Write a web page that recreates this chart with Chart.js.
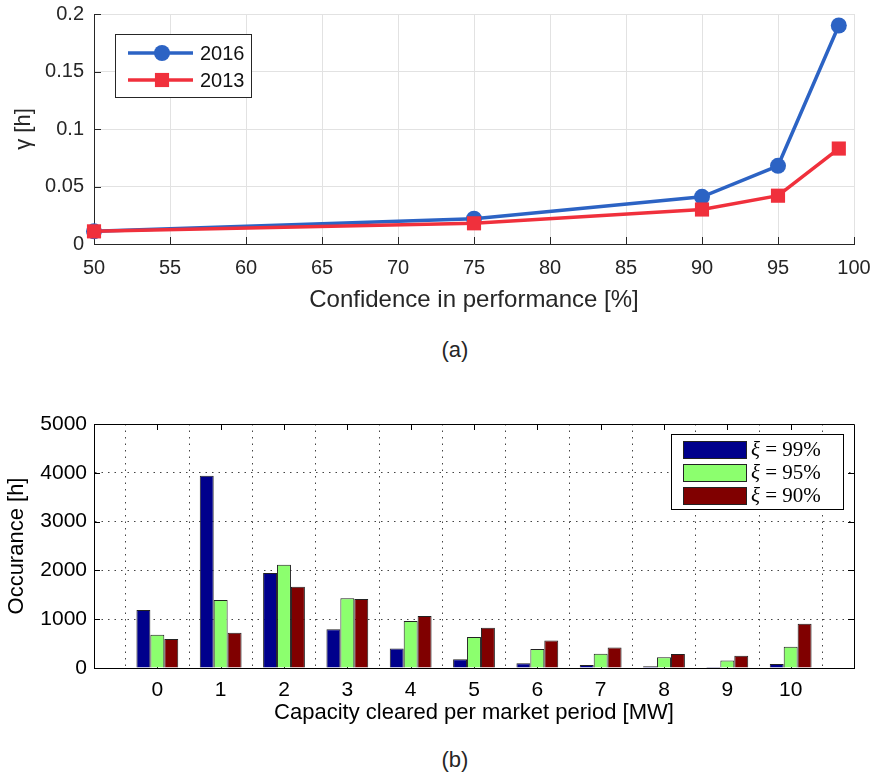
<!DOCTYPE html>
<html lang="en">
<head>
<meta charset="UTF-8">
<title>Confidence and capacity</title>
<script src="https://cdn.jsdelivr.net/npm/chart.js"></script>
<style>
  body { margin: 0; background: #fff; }
  body * { font-family: 'Liberation Sans', Arial, sans-serif; }
  #wrap { position: relative; width: 874px; height: 775px; }
  canvas { position: absolute; left: 0; }
  #chartA { top: 0; }
  #chartB { top: 400px; }
  .cap { position: absolute; left: 405px; width: 100px; text-align: center; font-size: 22px; color: #262626; line-height: 26px; }
</style>
</head>
<body>
<div id="wrap">
  <canvas id="chartA" width="874" height="330"></canvas>
  <div class="cap" style="top: 337px;">(a)</div>
  <canvas id="chartB" width="874" height="340"></canvas>
  <div class="cap" style="top: 747px;">(b)</div>
</div>
<script>
// (a) gamma vs confidence
const confidence = [50, 75, 90, 95, 99];
const gamma2016 = [0.011, 0.022, 0.041, 0.068, 0.19];
const gamma2013 = [0.011, 0.018, 0.030, 0.042, 0.083];
const confTicks = [50, 55, 60, 65, 70, 75, 80, 85, 90, 95, 100];
const gammaTicks = [0, 0.05, 0.1, 0.15, 0.2];

// (b) occurance per cleared capacity
const capacity = [0, 1, 2, 3, 4, 5, 6, 7, 8, 9, 10];
const occ99 = [1190, 3940, 1945, 795, 400, 177, 95, 60, 34, 20, 82];
const occ95 = [680, 1395, 2115, 1430, 965, 633, 388, 293, 218, 156, 435];
const occ90 = [592, 721, 1667, 1415, 1068, 823, 565, 422, 286, 252, 905];
const occTicks = [0, 1000, 2000, 3000, 4000, 5000];

const BLUE = '#2c63c4';
const RED = '#f0303c';
const INK = '#262626';
const NONE = 'rgba(0,0,0,0)';

// inward tick marks, optional full box
const frame = {
  id: 'frame',
  beforeDatasetsDraw(chart, args, o) {
    const { ctx, chartArea: a, scales: { x, y } } = chart;
    ctx.save();
    ctx.strokeStyle = o.color;
    ctx.lineWidth = 1;
    ctx.beginPath();
    x.ticks.forEach(t => {
      const px = Math.round(x.getPixelForValue(t.value)) + 0.5;
      ctx.moveTo(px, a.bottom); ctx.lineTo(px, a.bottom - o.len);
      if (o.box) { ctx.moveTo(px, a.top); ctx.lineTo(px, a.top + o.len); }
    });
    y.ticks.forEach(t => {
      const py = Math.round(y.getPixelForValue(t.value)) + 0.5;
      ctx.moveTo(a.left, py); ctx.lineTo(a.left + o.len, py);
      if (o.box) { ctx.moveTo(a.right, py); ctx.lineTo(a.right - o.len, py); }
    });
    if (o.box) ctx.rect(Math.round(a.left) + 0.5, Math.round(a.top) + 0.5, Math.round(a.right - a.left), Math.round(a.bottom - a.top));
    ctx.stroke();
    ctx.restore();
  }
};

// legend box drawn inside the plot area
const boxLegend = {
  id: 'boxLegend',
  afterDraw(chart, args, o) {
    const { ctx, chartArea: a } = chart;
    const bx = o.side === 'right' ? a.right - o.dx - o.width : a.left + o.dx;
    const by = a.top + o.dy;
    ctx.save();
    ctx.fillStyle = '#fff';
    ctx.fillRect(bx, by, o.width, o.height);
    ctx.strokeStyle = o.edge;
    ctx.lineWidth = 1;
    ctx.strokeRect(Math.round(bx) + 0.5, Math.round(by) + 0.5, o.width, o.height);
    chart.data.datasets.forEach((ds, i) => {
      const cy = by + o.first + i * o.rowH;
      if (o.kind === 'line') {
        ctx.strokeStyle = ds.borderColor;
        ctx.lineWidth = ds.borderWidth;
        ctx.beginPath();
        ctx.moveTo(bx + 13, cy); ctx.lineTo(bx + 78, cy);
        ctx.stroke();
        ctx.fillStyle = ds.borderColor;
        ctx.beginPath();
        if (ds.pointStyle === 'rect') {
          const s = ds.pointRadius * Math.SQRT1_2;
          ctx.rect(bx + 47 - s, cy - s, 2 * s, 2 * s);
        } else {
          ctx.arc(bx + 47, cy, ds.pointRadius, 0, Math.PI * 2);
        }
        ctx.fill();
        ctx.fillStyle = '#111';
        ctx.font = o.font;
        ctx.textBaseline = 'middle';
        ctx.fillText(ds.label, bx + 85, cy + 1);
      } else {
        ctx.fillStyle = ds.backgroundColor;
        ctx.fillRect(bx + 12, cy - 8, 63, 17);
        ctx.strokeStyle = '#222';
        ctx.strokeRect(bx + 12.5, cy - 7.5, 63, 17);
        ctx.fillStyle = '#000';
        ctx.textBaseline = 'middle';
        const sym = ds.label.slice(0, 1);
        const rest = ds.label.slice(1);
        ctx.font = 'italic ' + o.font;
        ctx.fillText(sym, bx + 80, cy + 1);
        const w = ctx.measureText(sym).width;
        ctx.font = o.font;
        ctx.fillText(rest, bx + 80 + w, cy + 1);
      }
    });
    ctx.restore();
  }
};

window.onload = () => {
  new Chart(document.getElementById('chartA'), {
    type: 'line',
    data: {
      datasets: [{
        label: '2016',
        data: confidence.map((c, i) => ({ x: c, y: gamma2016[i] })),
        borderColor: BLUE,
        backgroundColor: BLUE,
        borderWidth: 3.5,
        pointStyle: 'circle',
        pointRadius: 8,
        pointBorderWidth: 0,
        order: 1,
        clip: false
      }, {
        label: '2013',
        data: confidence.map((c, i) => ({ x: c, y: gamma2013[i] })),
        borderColor: RED,
        backgroundColor: RED,
        borderWidth: 3.5,
        pointStyle: 'rect',
        pointRadius: 10,
        pointBorderWidth: 0,
        order: 0,
        clip: false
      }]
    },
    options: {
      responsive: false,
      animation: false,
      layout: { autoPadding: false, padding: { top: 14, right: 20 } },
      plugins: {
        legend: { display: false },
        tooltip: { enabled: false },
        frame: { color: INK, len: 7, box: false },
        boxLegend: { kind: 'line', side: 'left', dx: 21, dy: 20, width: 136, height: 63, first: 19, rowH: 27, edge: INK, font: '20px "Liberation Sans"' }
      },
      scales: {
        x: {
          type: 'linear', min: 50, max: 100,
          afterBuildTicks: s => { s.ticks = confTicks.map(v => ({ value: v })); },
          afterFit: s => { s.height = 86; },
          grid: { color: '#e2e2e2', tickLength: 12, tickColor: NONE },
          border: { color: INK },
          ticks: { padding: 0, color: INK, font: { family: 'Liberation Sans', size: 20 } },
          title: { display: true, text: 'Confidence in performance [%]', color: INK, font: { family: 'Liberation Sans', size: 24 }, padding: { bottom: 15 } }
        },
        y: {
          min: 0, max: 0.2,
          afterBuildTicks: s => { s.ticks = gammaTicks.map(v => ({ value: v })); },
          afterFit: s => { s.width = 94; },
          grid: { color: '#e2e2e2', tickLength: 10, tickColor: NONE },
          border: { color: INK },
          ticks: { padding: 0, color: INK, font: { family: 'Liberation Sans', size: 20 }, callback: v => String(v) },
          title: { display: true, text: 'γ [h]', color: INK, font: { family: 'Liberation Sans', size: 22 }, padding: { top: 11 } }
        }
      }
    },
    plugins: [frame, boxLegend]
  });

  new Chart(document.getElementById('chartB'), {
    type: 'bar',
    data: {
      datasets: [
        { label: 'ξ = 99%', data: capacity.map((c, i) => ({ x: c, y: occ99[i] })), backgroundColor: '#00008c' },
        { label: 'ξ = 95%', data: capacity.map((c, i) => ({ x: c, y: occ95[i] })), backgroundColor: '#8cff6e' },
        { label: 'ξ = 90%', data: capacity.map((c, i) => ({ x: c, y: occ90[i] })), backgroundColor: '#800000' }
      ]
    },
    options: {
      responsive: false,
      animation: false,
      categoryPercentage: 0.66,
      barPercentage: 1,
      datasets: { bar: { borderColor: '#222', borderWidth: 1 } },
      layout: { autoPadding: false, padding: { top: 24, right: 20 } },
      plugins: {
        legend: { display: false },
        tooltip: { enabled: false },
        frame: { color: '#000', len: 6, box: true },
        boxLegend: { kind: 'box', side: 'right', dx: 11, dy: 10, width: 172, height: 75, first: 15, rowH: 23, edge: '#000', font: '21px "Liberation Serif"' }
      },
      scales: {
        x: {
          type: 'linear', min: -1, max: 11, offset: false,
          afterBuildTicks: s => { s.ticks = capacity.map(v => ({ value: v })); },
          afterFit: s => { s.height = 72; },
          grid: { color: '#444', tickLength: 10, tickColor: NONE },
          border: { color: '#000', dash: [1.5, 5] },
          ticks: { padding: 0, color: '#000', font: { family: 'Liberation Sans', size: 21 } },
          title: { display: true, text: 'Capacity cleared per market period [MW]', color: '#000', font: { family: 'Liberation Sans', size: 22 }, padding: { bottom: 14 } }
        },
        y: {
          min: 0, max: 5000,
          afterBuildTicks: s => { s.ticks = occTicks.map(v => ({ value: v })); },
          afterFit: s => { s.width = 94; },
          grid: { color: '#444', tickLength: 7, tickColor: NONE },
          border: { color: '#000', dash: [1.5, 5] },
          ticks: { padding: 0, color: '#000', font: { family: 'Liberation Sans', size: 21 }, callback: v => String(v) },
          title: { display: true, text: 'Occurance [h]', color: '#000', font: { family: 'Liberation Sans', size: 22 }, padding: { top: 4 } }
        }
      }
    },
    plugins: [frame, boxLegend]
  });
};
</script>
</body>
</html>
